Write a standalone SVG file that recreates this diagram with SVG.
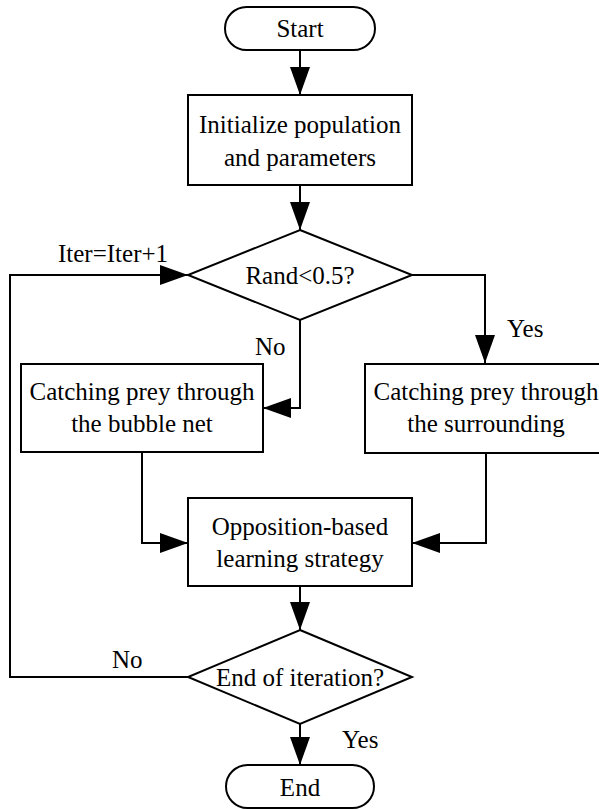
<svg xmlns="http://www.w3.org/2000/svg" width="599" height="810" viewBox="0 0 599 810" font-family="Liberation Serif, Times New Roman, serif" font-size="25">
<style>
.s{fill:#fff;stroke:#000;stroke-width:2}
.c{fill:none;stroke:#000;stroke-width:2;marker-end:url(#ah)}
text{font-family:'Liberation Serif','Times New Roman',serif;font-size:25px;fill:#000}
.m{text-anchor:middle}
</style>
<defs>
<marker id="ah" markerUnits="userSpaceOnUse" markerWidth="28" markerHeight="20" refX="28" refY="10" orient="auto">
<path d="M0,0 L28,10 L0,20 Z" fill="#000"/>
</marker>
</defs>
<g id="connectors">
<path class="c" d="M300,50 V95"/>
<path class="c" d="M300,185 V230"/>
<path class="c" d="M412,275 H485 V363"/>
<path class="c" d="M300,320 V408 H263"/>
<path class="c" d="M142,452 V543 H188"/>
<path class="c" d="M486,453 V543 H412"/>
<path class="c" d="M300,586 V630"/>
<path class="c" d="M300,724 V765"/>
<path class="c" d="M188,677 H10 V275 H188"/>
<text x="58" y="262">Iter=Iter+1</text>
<text x="255" y="355">No</text>
<text x="507" y="337">Yes</text>
<text x="112" y="668">No</text>
<text x="342" y="748">Yes</text>
</g>
<g id="start">
<rect class="s" x="225" y="7" width="150" height="43" rx="21.5"/>
<text class="m" x="300" y="37">Start</text>
</g>
<g id="init">
<rect class="s" x="188" y="95" width="224" height="90"/>
<text class="m" x="300" y="133">Initialize population</text>
<text class="m" x="300" y="166">and parameters</text>
</g>
<g id="rand">
<path class="s" d="M300,230 L412,275 L300,320 L188,275 Z"/>
<text class="m" x="300" y="284">Rand&lt;0.5?</text>
</g>
<g id="bubble">
<rect class="s" x="21" y="364" width="242" height="88"/>
<text class="m" x="142" y="400">Catching prey through</text>
<text class="m" x="142" y="432">the bubble net</text>
</g>
<g id="surround">
<rect class="s" x="365" y="364" width="242" height="89"/>
<text class="m" x="486" y="400">Catching prey through</text>
<text class="m" x="486" y="432">the surrounding</text>
</g>
<g id="obl">
<rect class="s" x="188" y="498" width="224" height="88"/>
<text class="m" x="300" y="535">Opposition-based</text>
<text class="m" x="300" y="567">learning strategy</text>
</g>
<g id="enditer">
<path class="s" d="M300,630 L412,677 L300,724 L188,677 Z"/>
<text class="m" x="300" y="686">End of iteration?</text>
</g>
<g id="end">
<rect class="s" x="226" y="765" width="148" height="43" rx="21.5"/>
<text class="m" x="300" y="796">End</text>
</g>
</svg>
